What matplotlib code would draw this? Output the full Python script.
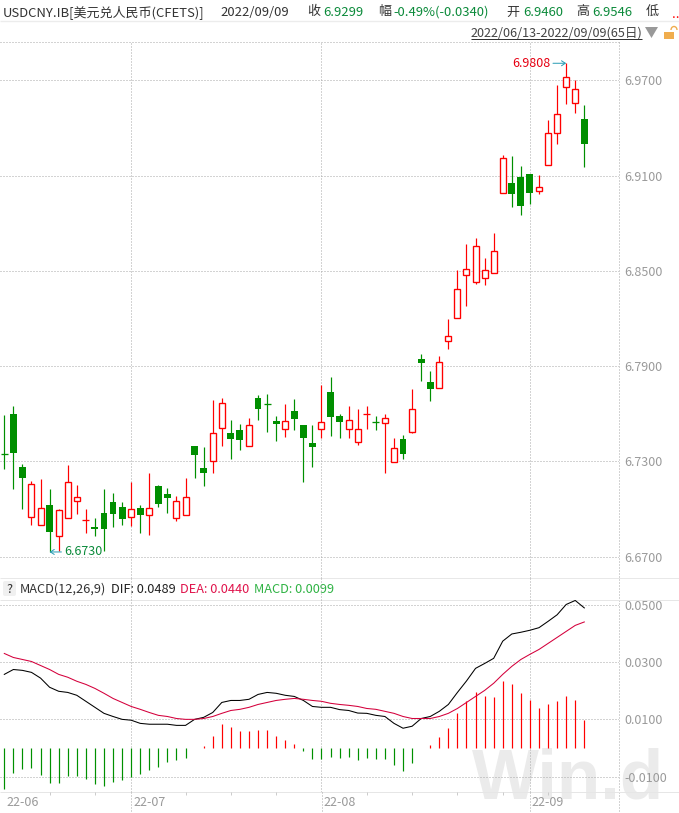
import matplotlib
matplotlib.use("Agg")
import matplotlib.pyplot as plt
from matplotlib.patches import Rectangle, FancyBboxPatch, Polygon, Arc
from matplotlib.transforms import ScaledTranslation

plt.rcParams['font.family'] = ['Noto Sans CJK SC', 'DejaVu Sans']

highs = [6.7592,6.7649,6.7284,6.7177,6.7189,6.7126,6.7000,6.7277,6.7151,6.7000,6.6944,6.7126,6.7101,
         6.7044,6.7170,6.7026,6.7227,6.7151,6.7133,6.7082,6.7196,6.7397,6.7391,6.7687,6.7700,6.7561,
         6.7536,6.7574,6.7719,6.7725,6.7586,6.7662,6.7693,6.7530,6.7530,6.7782,6.7832,6.7599,6.7649,
         6.7630,6.7649,6.7586,6.7599,6.7448,6.7467,6.7756,6.7977,6.7870,6.7964,6.8197,6.8506,6.8670,
         6.8708,6.8582,6.8739,6.9231,6.9224,6.9161,6.9111,6.9105,6.9451,6.9672,6.9808,6.9703,6.9546]
lows  = [6.7252,6.7126,6.7000,6.6900,6.6900,6.6730,6.6735,6.6946,6.6969,6.6849,6.6830,6.6735,6.6887,
         6.6900,6.6893,6.6849,6.6837,6.7013,6.6975,6.6925,6.6962,6.7196,6.7145,6.7227,6.7397,6.7315,
         6.7372,6.7399,6.7561,6.7485,6.7429,6.7454,6.7498,6.7170,6.7265,6.7448,6.7460,6.7448,6.7448,
         6.7404,6.7504,6.7498,6.7227,6.7298,6.7315,6.7481,6.7807,6.7681,6.7761,6.8008,6.8206,6.8279,
         6.8418,6.8412,6.8489,6.8993,6.8903,6.8852,6.8922,6.8985,6.9166,6.9300,6.9552,6.9495,6.9155]
opens = [6.7346,6.7599,6.7265,6.6952,6.6901,6.7026,6.6828,6.6946,6.7049,6.6929,6.6887,6.6975,6.7044,
         6.7013,6.6952,6.7007,6.6961,6.7145,6.7095,6.6942,6.6964,6.7397,6.7259,6.7301,6.7509,6.7479,
         6.7498,6.7399,6.7700,6.7661,6.7555,6.7503,6.7618,6.7530,6.7416,6.7503,6.7737,6.7586,6.7503,
         6.7424,6.7597,6.7547,6.7540,6.7298,6.7441,6.7487,6.7945,6.7800,6.7761,6.8057,6.8206,6.8476,
         6.8432,6.8457,6.8489,6.8993,6.9054,6.9092,6.9111,6.9006,6.9166,6.9367,6.9657,6.9556,6.9460]
closes= [6.7345,6.7355,6.7197,6.7156,6.7005,6.6857,6.6992,6.7169,6.7074,6.6929,6.6876,6.6876,6.6969,
         6.6937,6.6998,6.6963,6.7005,6.7032,6.7070,6.7049,6.7074,6.7340,6.7227,6.7477,6.7666,6.7441,
         6.7435,6.7528,6.7630,6.7660,6.7536,6.7553,6.7567,6.7448,6.7391,6.7546,6.7580,6.7548,6.7559,
         6.7503,6.7597,6.7546,6.7572,6.7383,6.7347,6.7628,6.7920,6.7756,6.7926,6.8088,6.8384,6.8510,
         6.8655,6.8504,6.8624,6.9210,6.8985,6.8909,6.8991,6.9027,6.9367,6.9487,6.9720,6.9644,6.9299]
dif = [0.0257,0.0274,0.0271,0.0264,0.0244,0.0212,0.0198,0.0194,0.0184,0.0163,0.0142,0.0121,0.0110,
       0.0100,0.0097,0.0086,0.0083,0.0083,0.0083,0.0079,0.0079,0.0100,0.0107,0.0124,0.0159,0.0166,
       0.0166,0.0170,0.0187,0.0194,0.0191,0.0184,0.0180,0.0166,0.0145,0.0142,0.0142,0.0134,0.0131,
       0.0122,0.0121,0.0114,0.0110,0.0086,0.0069,0.0076,0.0103,0.0110,0.0128,0.0152,0.0194,0.0234,
       0.0278,0.0295,0.0313,0.0373,0.0398,0.0404,0.0411,0.0420,0.0442,0.0465,0.0501,0.0515,0.0489]
dea = [0.0330,0.0316,0.0309,0.0302,0.0288,0.0274,0.0257,0.0247,0.0233,0.0222,0.0208,0.0191,0.0173,
       0.0159,0.0145,0.0135,0.0124,0.0114,0.0110,0.0103,0.0100,0.0100,0.0103,0.0110,0.0121,0.0131,
       0.0135,0.0142,0.0152,0.0159,0.0166,0.0170,0.0173,0.0170,0.0166,0.0163,0.0156,0.0152,0.0149,
       0.0145,0.0138,0.0135,0.0128,0.0121,0.0110,0.0103,0.0103,0.0103,0.0110,0.0121,0.0138,0.0159,
       0.0180,0.0201,0.0226,0.0257,0.0285,0.0309,0.0327,0.0344,0.0365,0.0386,0.0407,0.0428,0.0440]
macd = [-0.0144,-0.0088,-0.0074,-0.0071,-0.0093,-0.0123,-0.0123,-0.0099,-0.0097,-0.0109,-0.0127,-0.0134,-0.0120,
        -0.0113,-0.0100,-0.0092,-0.0078,-0.0067,-0.0050,-0.0043,-0.0036,-0.0001,0.0008,0.0043,0.0085,0.0074,
        0.0060,0.0060,0.0064,0.0064,0.0043,0.0029,0.0015,-0.0009,-0.0037,-0.0040,-0.0030,-0.0034,-0.0033,
        -0.0043,-0.0036,-0.0039,-0.0039,-0.0060,-0.0081,-0.0053,0.0000,0.0009,0.0037,0.0069,0.0121,0.0163,
        0.0194,0.0180,0.0177,0.0233,0.0222,0.0191,0.0166,0.0138,0.0152,0.0163,0.0180,0.0166,0.0099]
price_ticks = [6.67, 6.73, 6.79, 6.85, 6.91, 6.97]
macd_ticks = [-0.01, 0.01, 0.03, 0.05]
month_pos = [0, 14, 35, 58]
month_labels = ['22-06', '22-07', '22-08', '22-09']
minor_pos = [5, 10, 20, 25, 30, 40, 45, 50, 55, 60]

RED = '#ff0000'
GREEN = '#008f00'
GRID = '#a8a8a8'
TICK = '#9a9a9a'
DOT = (0, (1, 2))
W, H = 679, 813
PX = 0.72

fig = plt.figure(figsize=(W / 100, H / 100), dpi=100, facecolor='white')

def box(l, t, r, b):
    return [l / W, 1 - b / H, (r - l) / W, (b - t) / H]

bg = fig.add_axes([0, 0, 1, 1], zorder=-1)
bg.set_xlim(0, W); bg.set_ylim(H, 0); bg.axis('off')
x0 = -4.3 / 9.0625
x1 = (619 - 4.3) / 9.0625
ax1 = fig.add_axes(box(0, 42, 619, 578), zorder=1)
ax2 = fig.add_axes(box(0, 578, 619, 791.7), zorder=1)

def pline(xs, ys, color=GRID, ls='-', lw=PX):
    bg.plot(xs, ys, color=color, ls=ls, lw=lw, solid_capstyle='butt')

for ax in (ax1, ax2):
    ax.patch.set_alpha(0)
    ax.set_xlim(x0, x1)
    for s in ax.spines.values():
        s.set_visible(False)
    ax.grid(True, color=GRID, ls=DOT, lw=PX)
    ax.set_axisbelow(True)
    ax.yaxis.tick_right()
    ax.set_xticks(month_pos[1:])
    ax.tick_params(length=0, labelsize=9, labelcolor=TICK, pad=3.6)
    ax.tick_params(axis='x', labelbottom=False)

# candlesticks
ax1.set_ylim(6.6566, 6.9942)
ax1.set_yticks(price_ticks, [f'{v:.4f}' for v in price_ticks])
for i, (o, h, l, c) in enumerate(zip(opens, highs, lows, closes)):
    col = RED if c >= o else GREEN
    ax1.vlines(i, l, h, color=col, lw=PX * 1.2, zorder=2).set_snap(True)
    if abs(c - o) < 0.0006:
        ax1.hlines((o + c) / 2, i - 0.38, i + 0.38, color=col, lw=PX * 1.3, zorder=3).set_snap(True)
    elif c >= o:
        ax1.add_patch(Rectangle((i - 0.33, o), 0.66, c - o, fc='white', ec=RED, lw=PX * 1.35, zorder=3))
    else:
        ax1.add_patch(Rectangle((i - 0.38, c), 0.76, o - c, fc=GREEN, ec=GREEN, lw=0, zorder=3, snap=True))

hi = highs.index(max(highs))
lo = lows.index(min(lows))
arrow = dict(arrowstyle='->,head_length=0.3,head_width=0.2', color='#2a9db5', lw=PX, shrinkA=0, shrinkB=0)
ax1.annotate(f'{highs[hi]:.4f}', (hi, highs[hi]), xytext=(-11.5, 0), textcoords='offset points',
             ha='right', va='center', color='#e60012', fontsize=9, arrowprops=arrow)
ax1.annotate(f'{lows[lo]:.4f}', (lo, lows[lo]), xytext=(10.5, 0), textcoords='offset points',
             ha='left', va='center', color='#0a8a3a', fontsize=9, arrowprops=arrow)

# MACD
ax2.set_ylim(-0.01525, 0.05934)
ax2.set_yticks(macd_ticks, [f'{v:.4f}' for v in macd_ticks])
for i, v in enumerate(macd):
    ax2.vlines(i, 0, v, color=RED if v >= 0 else '#009000', lw=PX * 1.2, zorder=2).set_snap(True)
ax2.plot(range(len(dif)), dif, color='black', lw=PX * 1.05, zorder=3)
ax2.plot(range(len(dea)), dea, color='#d4003c', lw=PX * 1.05, zorder=3)

ax2.set_xticks(month_pos, month_labels)
ax2.set_xticks(minor_pos, minor=True)
ax2.tick_params(axis='x', labelbottom=True, pad=3, which='major')
ax2.tick_params(axis='x', which='minor', length=2, width=PX, color='#cccccc', direction='out')
ax2.xaxis.grid(False)
for k in month_pos[1:]:
    ax2.axvline(k, color=GRID, ls=DOT, lw=PX, zorder=0)
off = ScaledTranslation(2 / 100, 0, fig.dpi_scale_trans)
for t in ax2.get_xticklabels():
    t.set_ha('left')
    t.set_transform(t.get_transform() + off)

# frame and connecting lines in pixels
pline([0, W], [21, 21], color='#ececec', lw=1.0)
pline([0, 619], [42, 42], ls=DOT)
pline([619, 619], [42, 813], ls=DOT)
pline([0, W], [578, 578], color='#e8e8e8')
pline([0, 679], [600, 600], color='#e6e6e6')
pline([0, 679], [791.7, 791.7], color='#e6e6e6')
for px in (131.3, 321.5, 530.3):
    pline([px, px], [791.7, 813], ls=DOT)

# watermark
bg.text(472, 798, 'Win.d', fontsize=51, family='Liberation Sans', weight='bold', color='#ebebeb',
        ha='left', va='baseline', zorder=0)

# header
def txt(x, y, s, color='#333333', size=9.4, **kw):
    bg.text(x, y, s, color=color, fontsize=size, ha='left', va='center', **kw)

G = '#0b8a3a'
txt(3, 12, 'USDCNY.IB[美元兑人民币(CFETS)]')
txt(220, 12, '2022/09/09')
txt(307, 12, '收')
txt(323, 12, '6.9299', G)
txt(378, 12, '幅')
txt(393, 12, '-0.49%(-0.0340)', G)
txt(506, 12, '开')
txt(523, 12, '6.9460', G)
txt(576, 12, '高')
txt(592, 12, '6.9546', G)
txt(646, 12, '低')
txt(672, 14, '..', RED)

txt(471, 33, '2022/06/13-2022/09/09(65日)', '#444444', size=9.1)
pline([471, 642], [39, 39], color='#333333')
bg.add_patch(Polygon([(645, 27), (658, 27), (651.5, 38)], fc='#999999', ec='none'))
bg.add_patch(Rectangle((664, 32), 10, 7, fc='#f0ad4e', ec='none'))
bg.add_patch(Arc((674, 30), 6, 7, theta1=180, theta2=360, ec='#f0ad4e', lw=1))

# MACD header
bg.add_patch(FancyBboxPatch((3, 581), 13, 15, boxstyle='round,pad=0,rounding_size=2', fc='#f0f0f0', ec='none'))
txt(6.5, 589, '?', '#333333', size=9)
txt(20, 589, 'MACD(12,26,9)', '#333333', size=9.2)
txt(111, 589, 'DIF: 0.0489', '#222222', size=9.2)
txt(180, 589, 'DEA: 0.0440', '#e0144c', size=9.2)
txt(254, 589, 'MACD: 0.0099', '#2fb344', size=9.2)

fig.savefig('out.png', dpi=100)
